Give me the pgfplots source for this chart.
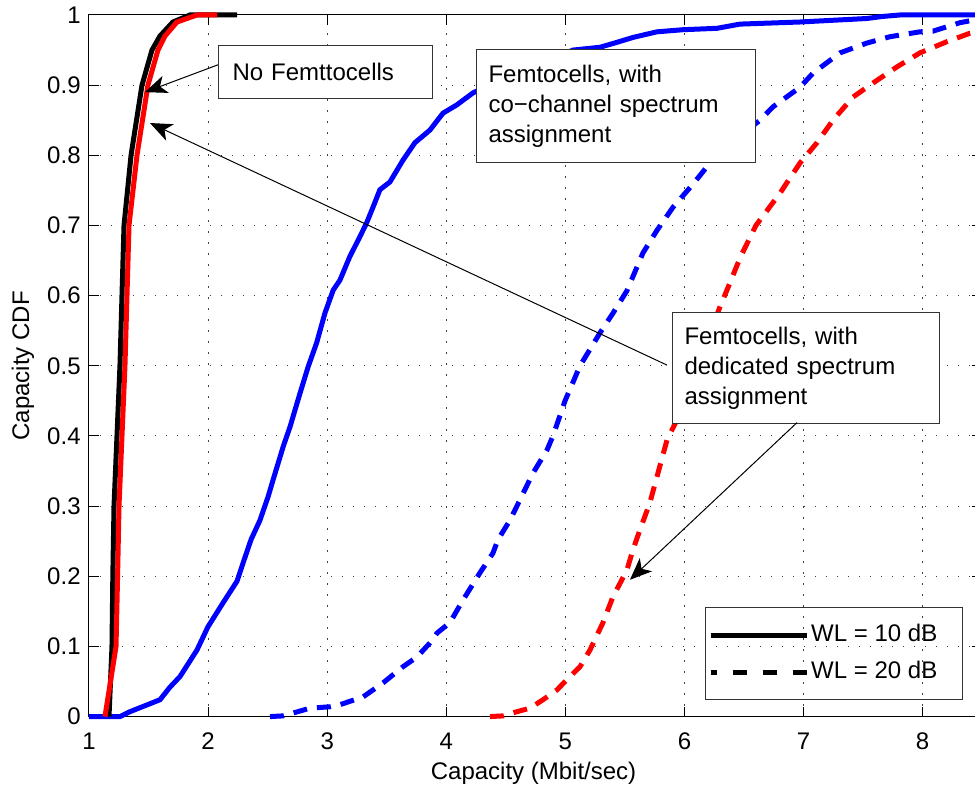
\documentclass[border=0pt]{standalone}
\usepackage{fontspec}
\setmainfont{Liberation Sans}
\usepackage{pgfplots}
\pgfplotsset{compat=1.18}
\usetikzlibrary{arrows.meta}
\begin{document}
\fontsize{12}{14.4}\selectfont
\begin{tikzpicture}
\begin{axis}[
  at={(0pt,0pt)}, anchor=south west,
  scale only axis, width=446.6pt, height=350.8pt,
  xmin=1, xmax=8.5, ymin=0, ymax=1,
  xtick={1,2,3,4,5,6,7,8},
  ytick={0,0.1,0.2,0.3,0.4,0.5,0.6,0.7,0.8,0.9,1},
  /pgf/number format/assume math mode=true,
  tick label style={font=\fontsize{12}{14.4}\selectfont},
  xticklabel style={yshift=-4pt},
  grid=major,
  major grid style={black!75, line width=0.5pt, dash pattern=on 0.6pt off 4.9pt},
  axis line style={line width=0.5pt, black},
  major tick length=5pt,
  tick style={black, line width=0.5pt},
  tick align=inside,
  clip=false,
  xlabel={Capacity (Mbit/sec)},
  ylabel={Capacity CDF},
  every axis x label/.style={at={(axis description cs:0.4977,-0.0802)}, anchor=center, font=\fontsize{12}{14.4}\selectfont},
  every axis y label/.style={at={(axis description cs:-0.0739,0.5)}, anchor=center, rotate=90, font=\fontsize{12}{14.4}\selectfont},
  legend style={at={(axis cs:8.338,0.1563)}, anchor=north east,
    draw=black!80, fill=none, line width=0.6pt,
    inner xsep=1.5pt, inner ysep=5pt, row sep=1pt,
    font=\fontsize{12}{14.4}\selectfont,
    nodes={inner xsep=1pt, inner ysep=3.5pt}},
  legend cell align=left,
  legend image code/.code={\draw[#1] (-9pt,0pt) -- (39pt,0pt);},
]
\addlegendimage{black, line width=2.5pt}
\addlegendentry{WL = 10 dB\hspace{10pt}\mbox{}}
\addlegendimage{black, line width=2.5pt, dash pattern=on 7pt off 8pt, dash phase=4pt}
\addlegendentry{WL = 20 dB\hspace{10pt}\mbox{}}

% Blue solid: co-channel, WL = 10 dB
\addplot[blue, line width=2.5pt, forget plot] coordinates {
(1.0,0) (1.26,0) (1.344,0.007) (1.596,0.024) (1.68,0.042) (1.764,0.057)
(1.907,0.095) (1.999,0.128) (2.125,0.162) (2.243,0.193) (2.30,0.222) (2.36,0.252)
(2.436,0.28) (2.505,0.314) (2.545,0.337) (2.631,0.385) (2.688,0.413)
(2.772,0.461) (2.841,0.499) (2.912,0.533) (2.981,0.575) (3.051,0.608)
(3.107,0.622) (3.191,0.656) (3.275,0.684) (3.332,0.704) (3.387,0.727)
(3.443,0.751) (3.527,0.762) (3.636,0.793) (3.737,0.818) (3.863,0.836)
(3.972,0.86) (4.09,0.872) (4.224,0.889) (4.451,0.907) (4.787,0.929)
(5.064,0.95) (5.29,0.954) (5.433,0.961) (5.568,0.968) (5.769,0.976)
(5.987,0.979) (6.273,0.981) (6.466,0.987) (6.97,0.99) (7.532,0.995)
(7.667,0.998) (7.81,1.0) (8.5,1.0)
};
% Blue dashed: co-channel, WL = 20 dB
\addplot[blue, line width=2.5pt, dash pattern=on 7pt off 5pt, forget plot] coordinates {
(2.52,0) (2.629,0.001) (2.856,0.012) (3.024,0.014) (3.107,0.017)
(3.301,0.028) (3.469,0.048) (3.636,0.071) (3.754,0.085) (3.863,0.105)
(3.922,0.119) (4.031,0.134) (4.14,0.166) (4.283,0.205) (4.392,0.233)
(4.434,0.252) (4.535,0.28) (4.619,0.309) (4.728,0.347) (4.846,0.38)
(4.896,0.4) (4.997,0.45) (5.123,0.5) (5.291,0.547) (5.4,0.575)
(5.517,0.607) (5.652,0.661) (5.769,0.693) (5.904,0.726) (6.072,0.759)
(6.214,0.789) (6.424,0.822) (6.634,0.85) (6.743,0.869) (6.97,0.897)
(7.079,0.917) (7.306,0.946) (7.532,0.96) (7.725,0.969) (7.977,0.976)
(8.087,0.977) (8.313,0.989) (8.5,0.995)
};
% Red dashed: dedicated, WL = 20 dB
\addplot[red, line width=2.5pt, dash pattern=on 7pt off 5pt, forget plot] coordinates {
(4.367,0) (4.476,0.001) (4.594,0.007) (4.703,0.012) (4.812,0.024)
(4.929,0.038) (5.038,0.057) (5.123,0.071) (5.207,0.095) (5.316,0.134)
(5.4,0.171) (5.459,0.19) (5.517,0.209) (5.568,0.238) (5.626,0.266)
(5.71,0.305) (5.853,0.394) (5.937,0.423) (6.13,0.508) (6.298,0.584)
(6.357,0.608) (6.47,0.655) (6.6,0.70) (6.802,0.746) (6.97,0.789)
(7.113,0.818) (7.247,0.85) (7.415,0.883) (7.583,0.903) (7.784,0.926)
(7.977,0.946) (8.204,0.962) (8.397,0.974) (8.5,0.978)
};
% Black solid: no femtocells
\addplot[black, line width=2.5pt, forget plot] coordinates {
(1.168,0) (1.193,0.1) (1.2,0.2) (1.21,0.3) (1.235,0.4) (1.26,0.5)
(1.277,0.6) (1.294,0.7) (1.353,0.8) (1.445,0.9) (1.529,0.95)
(1.596,0.97) (1.705,0.99) (1.848,1.0) (2.243,1.0)
};
% Red solid: dedicated, WL = 10 dB
\addplot[red, line width=2.5pt, forget plot] coordinates {
(1.134,0) (1.227,0.1) (1.24,0.2) (1.252,0.3) (1.277,0.4) (1.302,0.5)
(1.319,0.6) (1.336,0.7) (1.403,0.8) (1.495,0.9) (1.579,0.95)
(1.638,0.97) (1.739,0.99) (1.907,1.0) (2.075,1.0)
};

% Annotation boxes
\node[draw=black!80, fill=white, line width=0.6pt, anchor=north west,
  inner xsep=7pt, text width=93pt, minimum height=26.5pt, align=left,
  font=\fontsize{12}{15}\selectfont]
  at (axis cs:2.083,0.957) {No Femttocells};
\node[draw=black!80, fill=white, line width=0.6pt, anchor=north west,
  inner xsep=6pt, text width=127.5pt, minimum height=56.5pt, align=left,
  font=\fontsize{12}{15}\selectfont]
  at (axis cs:4.249,0.9515) {Femtocells, with\\co−channel spectrum\\assignment};
\node[draw=black!80, fill=white, line width=0.6pt, anchor=north west,
  inner xsep=6pt, text width=121.5pt, minimum height=55.5pt, align=left,
  font=\fontsize{12}{15}\selectfont]
  at (axis cs:5.895,0.577) {Femtocells, with\\dedicated spectrum\\assignment};

% Arrows
\draw[line width=0.5pt, -{Stealth[length=11pt, width=9pt, inset=3pt]}]
  (axis cs:2.083,0.929) -- (axis cs:1.470,0.890);
\draw[line width=0.5pt, -{Stealth[length=11pt, width=9pt, inset=3pt]}]
  (axis cs:5.853,0.501) -- (axis cs:1.512,0.846);
\draw[line width=0.5pt, -{Stealth[length=11pt, width=9pt, inset=3pt]}]
  (axis cs:6.945,0.419) -- (axis cs:5.542,0.195);
\end{axis}
\pgfresetboundingbox
\path (-44.5pt,-36.7pt) rectangle (443pt,358.3pt);
\end{tikzpicture}
\end{document}
